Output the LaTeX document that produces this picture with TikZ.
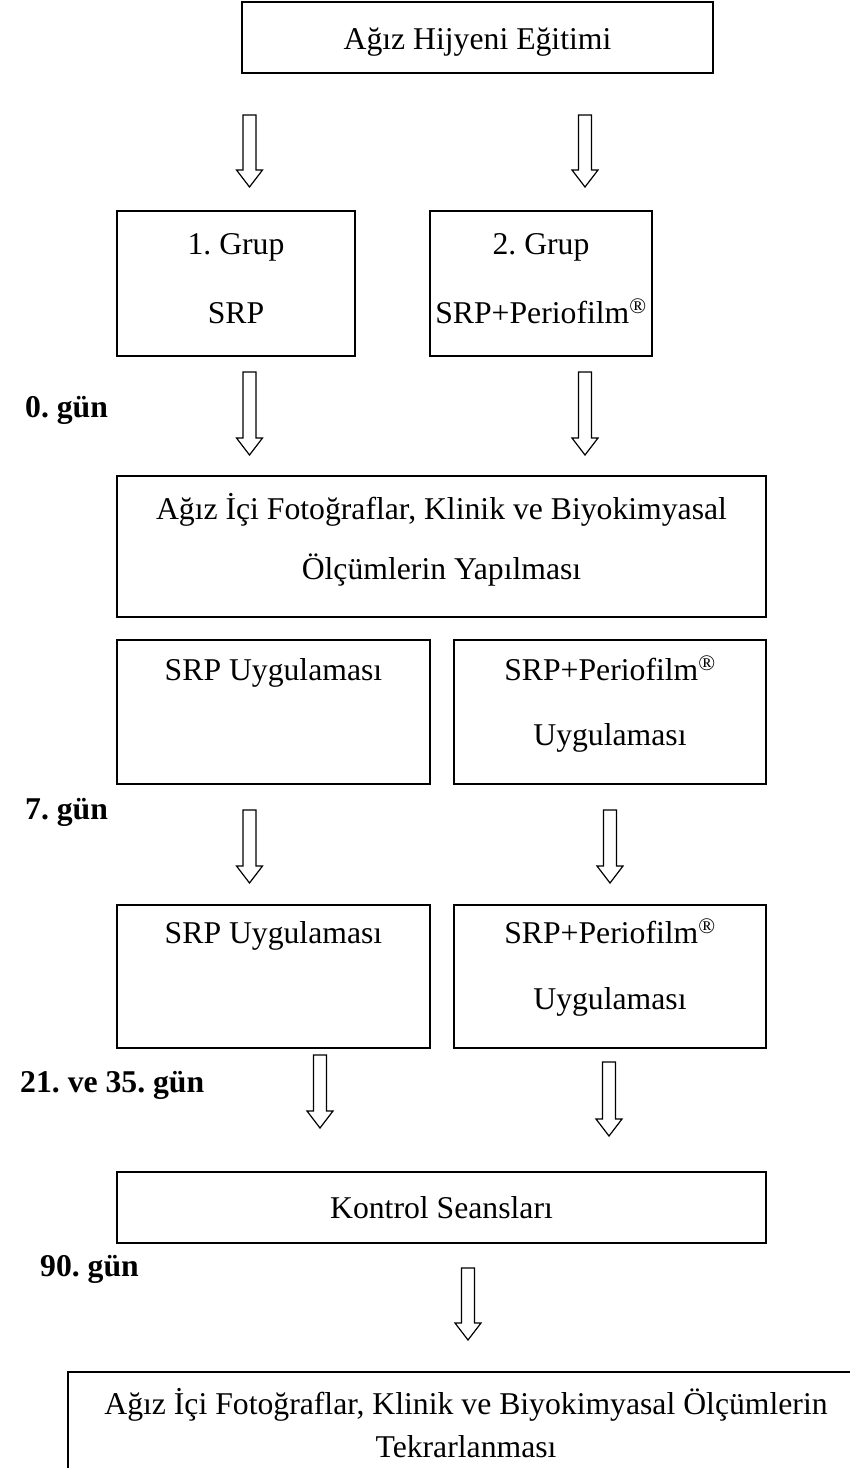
\documentclass[tikz,border=0pt]{standalone}
\usepackage{fontspec}
\setmainfont{Liberation Serif}
\frenchspacing
\newcommand\bigfnt{\fontsize{31.7pt}{38pt}\selectfont\frenchspacing}
\newcommand\mybox[5]{\node[box, minimum width={#4-#2}, minimum height={#5-#3}] (#1) at ({(#2+#4)/2},{(#3+#5)/2}) {};}
\newcommand\hollowarrow[3]{\draw[barrow] ({#1-6.5},#2) -- ({#1+6.5},#2) -- ({#1+6.5},{#3-17}) -- ({#1+13},{#3-17}) -- (#1,#3) -- ({#1-13},{#3-17}) -- ({#1-6.5},{#3-17}) -- cycle;}
\begin{document}
\begin{tikzpicture}[x=1pt,y=-1pt,
  box/.style={draw, line width=1.5pt, inner sep=0pt},
  txt/.style={font=\bigfnt, anchor=base, inner sep=0pt},
  day/.style={font=\bigfnt\bfseries, anchor=base west, inner sep=0pt},
  barrow/.style={draw, line width=1.2pt, line join=miter, fill=white}]
\useasboundingbox (0,0) rectangle (850,1468);
% boxes
\mybox{b0}{242}{2}{713}{73}
\mybox{g1}{117}{211}{355}{356}
\mybox{g2}{430}{211}{652}{356}
\mybox{m1}{117}{476}{766}{617}
\mybox{r3l}{117}{640}{430}{784}
\mybox{r3r}{454}{640}{766}{784}
\mybox{r4l}{117}{905}{430}{1048}
\mybox{r4r}{454}{905}{766}{1048}
\mybox{k}{117}{1172}{766}{1243}
\coordinate (btr) at (850,1372);
\coordinate (btl) at (68,1372);
\coordinate (bbl) at (68,1468);
\draw[line width=1.5pt] (btr) -- (btl) -- (bbl);
% arrows
\hollowarrow{249.5}{115}{187}
\hollowarrow{585}{115}{187}
\hollowarrow{249.5}{372}{455}
\hollowarrow{585}{372}{455}
\hollowarrow{249.5}{810}{883}
\hollowarrow{610}{810}{883}
\hollowarrow{320}{1055}{1128}
\hollowarrow{609}{1062}{1136}
\hollowarrow{468}{1268}{1340}
% texts
\node[txt] (t0) at (477.5,49) {Ağız Hijyeni Eğitimi};
\node[txt] (t1) at (236,254) {1. Grup};
\node[txt] (t2) at (236,323) {SRP};
\node[txt] (t3) at (541,254) {2. Grup};
\node[txt] (t4) at (541,323) {SRP+Periofilm\textsuperscript{®}};
\node[day] (d0) at (25,417) {0. gün};
\node[txt] (t5) at (441.5,519) {Ağız İçi Fotoğraflar, Klinik ve Biyokimyasal};
\node[txt] (t6) at (441.5,579) {Ölçümlerin Yapılması};
\node[txt] (t7) at (273.5,680) {SRP Uygulaması};
\node[txt] (t8) at (610,680) {SRP+Periofilm\textsuperscript{®}};
\node[txt] (t9) at (610,745) {Uygulaması};
\node[day] (d1) at (25,819) {7. gün};
\node[txt] (t10) at (273.5,943) {SRP Uygulaması};
\node[txt] (t11) at (610,943) {SRP+Periofilm\textsuperscript{®}};
\node[txt] (t12) at (610,1009) {Uygulaması};
\node[day] (d2) at (20,1092) {21. ve 35. gün};
\node[txt] (t13) at (441.5,1218) {Kontrol Seansları};
\node[day] (d3) at (40,1276) {90. gün};
\node[txt] (t14) at (466,1414) {Ağız İçi Fotoğraflar, Klinik ve Biyokimyasal Ölçümlerin};
\node[txt] (t15) at (466,1457) {Tekrarlanması};
\end{tikzpicture}
\end{document}
